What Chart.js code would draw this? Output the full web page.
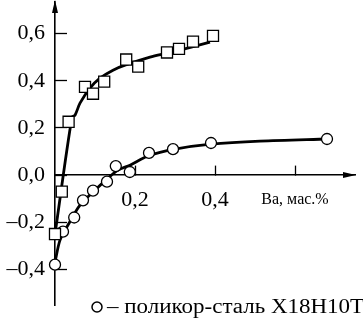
<!DOCTYPE html>
<html>
<head>
<meta charset="utf-8">
<script src="https://cdn.jsdelivr.net/npm/chart.js@4/dist/chart.umd.min.js"></script>
<style>
  html, body { margin: 0; padding: 0; background: #fff; }
  #wrap { width: 363px; height: 319px; }
</style>
</head>
<body>
<div id="wrap"><canvas id="chart"></canvas></div>
<script>
// measured points (squares and circles)
const squareX = [0, 0.017, 0.034, 0.075, 0.095, 0.123, 0.178, 0.208, 0.28, 0.31, 0.345, 0.395];
const squareY = [-0.25, -0.07, 0.226, 0.374, 0.345, 0.396, 0.49, 0.46, 0.52, 0.535, 0.566, 0.59];
const circleX = [0, 0.02, 0.048, 0.07, 0.095, 0.13, 0.152, 0.187, 0.235, 0.295, 0.39, 0.68];
const circleY = [-0.38, -0.24, -0.18, -0.107, -0.066, -0.028, 0.038, 0.013, 0.094, 0.11, 0.136, 0.153];

// hand drawn curves
const squareCurveX = [0, 0.0425, 0.05, 0.0625, 0.0875, 0.1125, 0.145, 0.175, 0.2375, 0.28, 0.3125, 0.3875];
const squareCurveY = [-0.25, 0.246, 0.254, 0.305, 0.369, 0.411, 0.445, 0.466, 0.5, 0.517, 0.53, 0.564];
const circleCurveX = [0, 0.0125, 0.0325, 0.0625, 0.1, 0.1325, 0.1575, 0.1875, 0.2325, 0.3, 0.39, 0.5125, 0.6825];
const circleCurveY = [-0.37, -0.276, -0.212, -0.127, -0.064, -0.013, 0.021, 0.042, 0.081, 0.11, 0.131, 0.144, 0.153];

const xTickValues = [0.2, 0.4, 0.6];
const xTickLabels = ['0,2', '0,4', 'Ва, мас.%'];
const yTickValues = [-0.4, -0.2, 0, 0.2, 0.4, 0.6];
const yTickLabels = ['–0,4', '–0,2', '0,0', '0,2', '0,4', '0,6'];
const legendText = '– поликор-сталь Х18Н10Т';

const pts = (xs, ys) => xs.map((x, i) => ({ x: x, y: ys[i] }));
const serif = 'Liberation Serif';

// arrows at axis ends and the legend line at the bottom
const extras = {
    id: 'extras',
    afterDraw(chart) {
        const ctx = chart.ctx;
        const area = chart.chartArea;
        const y0 = chart.scales.y.getPixelForValue(0);
        ctx.save();
        ctx.fillStyle = '#000';
        ctx.beginPath();
        ctx.moveTo(area.left, area.top - 2);
        ctx.lineTo(area.left - 3, area.top + 11);
        ctx.lineTo(area.left + 3, area.top + 11);
        ctx.closePath();
        ctx.fill();
        ctx.beginPath();
        ctx.moveTo(area.right + 1, y0);
        ctx.lineTo(area.right - 12, y0 - 3);
        ctx.lineTo(area.right - 12, y0 + 3);
        ctx.closePath();
        ctx.fill();

        ctx.strokeStyle = '#000';
        ctx.lineWidth = 1.5;
        ctx.fillStyle = '#fff';
        ctx.beginPath();
        ctx.arc(97, 307, 5, 0, Math.PI * 2);
        ctx.fill();
        ctx.stroke();
        ctx.fillStyle = '#000';
        ctx.font = '20px "' + serif + '"';
        ctx.textBaseline = 'alphabetic';
        ctx.translate(107, 313);
        ctx.scale(1.15, 1);
        ctx.fillText(legendText, 0, 0);
        ctx.restore();
    }
};

new Chart(document.getElementById('chart'), {
    type: 'scatter',
    data: {
        datasets: [
            {
                data: pts(squareX, squareY),
                pointStyle: 'rect',
                pointRadius: 7.8,
                pointBackgroundColor: '#fff',
                pointBorderColor: '#000',
                pointBorderWidth: 1.3,
                showLine: false,
                clip: false,
                order: 0
            },
            {
                data: pts(circleX, circleY),
                pointStyle: 'circle',
                pointRadius: 5.5,
                pointBackgroundColor: '#fff',
                pointBorderColor: '#000',
                pointBorderWidth: 1.3,
                showLine: false,
                clip: false,
                order: 0
            },
            {
                data: pts(squareCurveX, squareCurveY),
                showLine: true,
                borderColor: '#000',
                borderWidth: 2.8,
                pointRadius: 0,
                tension: 0.3,
                clip: false,
                order: 1
            },
            {
                data: pts(circleCurveX, circleCurveY),
                showLine: true,
                borderColor: '#000',
                borderWidth: 2.8,
                pointRadius: 0,
                tension: 0.3,
                clip: false,
                order: 1
            }
        ]
    },
    options: {
        responsive: true,
        maintainAspectRatio: false,
        animation: false,
        layout: {
            autoPadding: false,
            padding: { top: 2, right: 8, bottom: 14, left: 0 }
        },
        plugins: {
            legend: { display: false },
            tooltip: { enabled: false }
        },
        scales: {
            x: {
                type: 'linear',
                position: { y: 0 },
                min: 0,
                max: 0.75,
                afterBuildTicks: s => { s.ticks = xTickValues.map(v => ({ value: v })); },
                afterFit: s => {
                    s.height = 0;
                    s.paddingLeft = 0;
                    s.paddingRight = 0;
                },
                border: { color: '#000', width: 1.6 },
                grid: {
                    drawOnChartArea: false,
                    tickLength: -10,
                    tickColor: '#000',
                    tickWidth: 1.3
                },
                ticks: {
                    autoSkip: false,
                    maxRotation: 0,
                    padding: 22,
                    color: '#000',
                    font: c => {
                        const last = c.tick && c.tick.value === 0.6;
                        return { family: serif, size: last ? 16 : 22, lineHeight: '26px' };
                    },
                    callback: (v, i) => xTickLabels[i]
                }
            },
            y: {
                type: 'linear',
                position: 'left',
                min: -0.551,
                max: 0.734,
                afterBuildTicks: s => { s.ticks = yTickValues.map(v => ({ value: v })); },
                afterFit: s => {
                    s.width = 55;
                    s.paddingTop = 0;
                    s.paddingBottom = 0;
                },
                border: { color: '#000', width: 1.6 },
                grid: {
                    drawOnChartArea: false,
                    tickLength: -12,
                    tickColor: '#000',
                    tickWidth: 1.3
                },
                ticks: {
                    padding: 22,
                    color: '#000',
                    font: { family: serif, size: 22 },
                    callback: (v, i) => yTickLabels[i]
                }
            }
        }
    },
    plugins: [extras]
});
</script>
</body>
</html>
